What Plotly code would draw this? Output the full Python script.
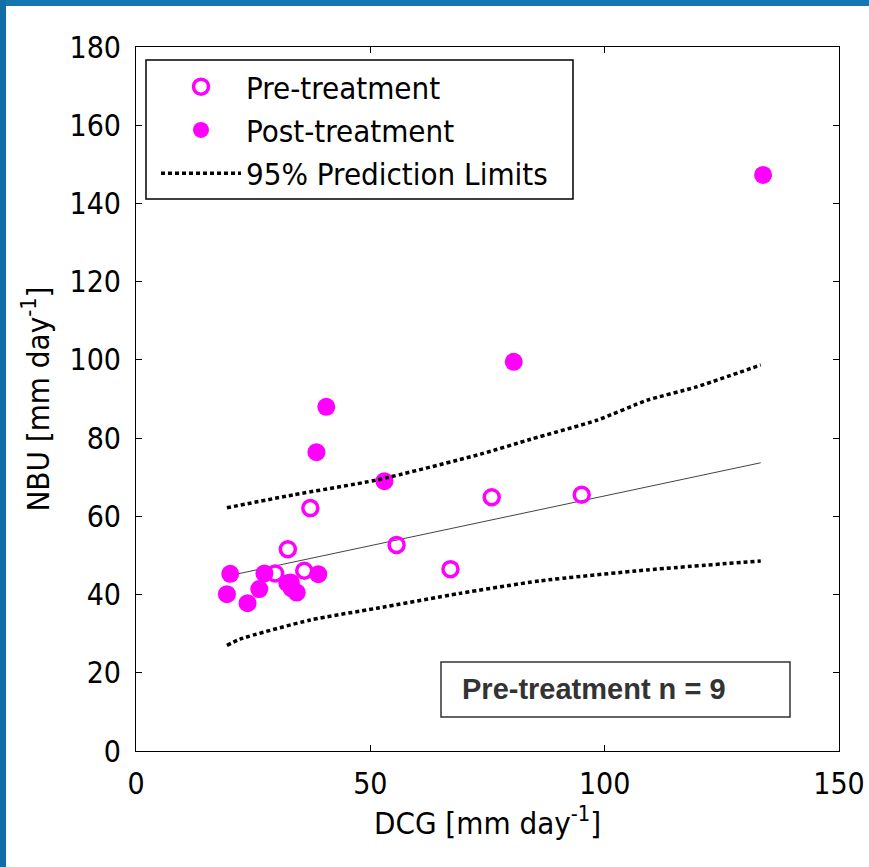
import plotly.graph_objects as go

# ---- data ----
pre_x = [37.2, 32.4, 55.6, 67.1, 75.9, 95.1, 35.9, 29.7, 33.0]
pre_y = [62.1, 51.6, 52.7, 46.5, 64.9, 65.5, 46.1, 45.4, 43.0]

post_x = [133.8, 80.6, 40.6, 38.5, 53.0, 20.1, 19.4, 23.8, 26.3, 27.4, 32.3, 33.2, 34.3, 38.9]
post_y = [147.3, 99.5, 88.0, 76.4, 69.0, 45.3, 40.1, 37.8, 41.4, 45.4, 42.9, 41.6, 40.5, 45.2]

fit_x = [19.4, 133.3]
fit_y = [44.7, 73.7]

upper_x = [19.4, 33.6, 51.4, 73.5, 84.2, 98.4, 109.1, 119.6, 133.3]
upper_y = [62.2, 65.5, 69.3, 75.9, 79.7, 84.6, 89.7, 93.1, 98.7]

lower_x = [19.4, 22.2, 37.2, 51.4, 69.1, 86.2, 109.1, 133.3]
lower_y = [27.0, 28.6, 33.5, 36.5, 40.3, 43.5, 46.3, 48.6]

x_ticks = [0, 50, 100, 150]
y_ticks = [0, 20, 40, 60, 80, 100, 120, 140, 160, 180]

MAG = "#ff00ff"
FONT = "DejaVu Sans Condensed, DejaVu Sans, sans-serif"

W, H = 869, 867
L, R, T, B = 136, 30, 47, 116
PW, PH = W - L - R, H - T - B


def px(xp):
    return (xp - L) / PW


def py(yp):
    return (H - B - yp) / PH


fig = go.Figure()

fig.add_trace(go.Scatter(
    x=fit_x, y=fit_y, mode="lines", showlegend=False,
    line=dict(color="#444444", width=1), hoverinfo="skip"))

fig.add_trace(go.Scatter(
    x=pre_x, y=pre_y, mode="markers", name="Pre-treatment",
    marker=dict(symbol="circle-open", size=15, color=MAG,
                line=dict(color=MAG, width=3.5))))

fig.add_trace(go.Scatter(
    x=post_x, y=post_y, mode="markers", name="Post-treatment",
    marker=dict(symbol="circle", size=18, color=MAG, line=dict(width=0))))

fig.add_trace(go.Scatter(
    x=upper_x, y=upper_y, mode="lines", name="95% Prediction Limits",
    line=dict(color="black", width=3.5, dash="4px,3px", shape="spline", smoothing=0.6)))

fig.add_trace(go.Scatter(
    x=lower_x, y=lower_y, mode="lines", showlegend=False,
    line=dict(color="black", width=3.5, dash="4px,3px", shape="spline", smoothing=0.6)))

axis_common = dict(
    showline=True, linecolor="black", linewidth=1, mirror="ticks",
    ticks="inside", ticklen=6, tickcolor="black", tickwidth=1,
    showgrid=False, zeroline=False, automargin=False,
    tickfont=dict(family=FONT, size=30, color="black"),
)

fig.update_xaxes(range=[0, 150], tickvals=x_ticks, ticklabelstandoff=6,
                 title=dict(text="DCG [mm day<sup>-1</sup>]", standoff=8,
                            font=dict(family=FONT, size=31, color="black")),
                 **axis_common)
fig.update_yaxes(range=[0, 180], tickvals=y_ticks, ticklabelstandoff=8,
                 title=dict(text="NBU [mm day<sup>-1</sup>]", standoff=10,
                            font=dict(family=FONT, size=31, color="black")),
                 **axis_common)

shapes = [
    # blue frame bands
    dict(type="rect", xref="paper", yref="paper", x0=px(0), x1=px(W), y0=py(6), y1=py(0),
         fillcolor="#1776b0", line=dict(width=0), layer="above"),
    dict(type="rect", xref="paper", yref="paper", x0=px(0), x1=px(6), y0=py(H), y1=py(0),
         fillcolor="#116fa6", line=dict(width=0), layer="above"),
    # legend frame
    dict(type="rect", xref="paper", yref="paper", x0=px(146), x1=px(573), y0=py(199), y1=py(60),
         fillcolor="rgba(0,0,0,0)", line=dict(color="black", width=1.5), layer="above"),
    # text box
    dict(type="rect", xref="paper", yref="paper", x0=px(441), x1=px(790), y0=py(717), y1=py(662),
         fillcolor="white", line=dict(color="#333333", width=1.5), layer="above"),
]

fig.add_annotation(
    xref="paper", yref="paper", x=px(460), y=py(689), xanchor="left", yanchor="middle",
    text="<b>Pre-treatment n = 9</b>", showarrow=False,
    font=dict(family="Liberation Sans, Arial, sans-serif", size=29, color="#333333"))

fig.update_layout(
    width=W, height=H, autosize=False,
    margin=dict(l=L, r=R, t=T, b=B, pad=0),
    paper_bgcolor="white", plot_bgcolor="white",
    shapes=shapes,
    font=dict(family=FONT, size=30, color="black"),
    legend=dict(x=px(156), y=py(60), xanchor="left", yanchor="top",
                borderwidth=0, bgcolor="rgba(0,0,0,0)",
                itemwidth=80, font=dict(family=FONT, size=31, color="black"),
                tracegroupgap=0),
    showlegend=True,
)

fig.write_html("out.html")
